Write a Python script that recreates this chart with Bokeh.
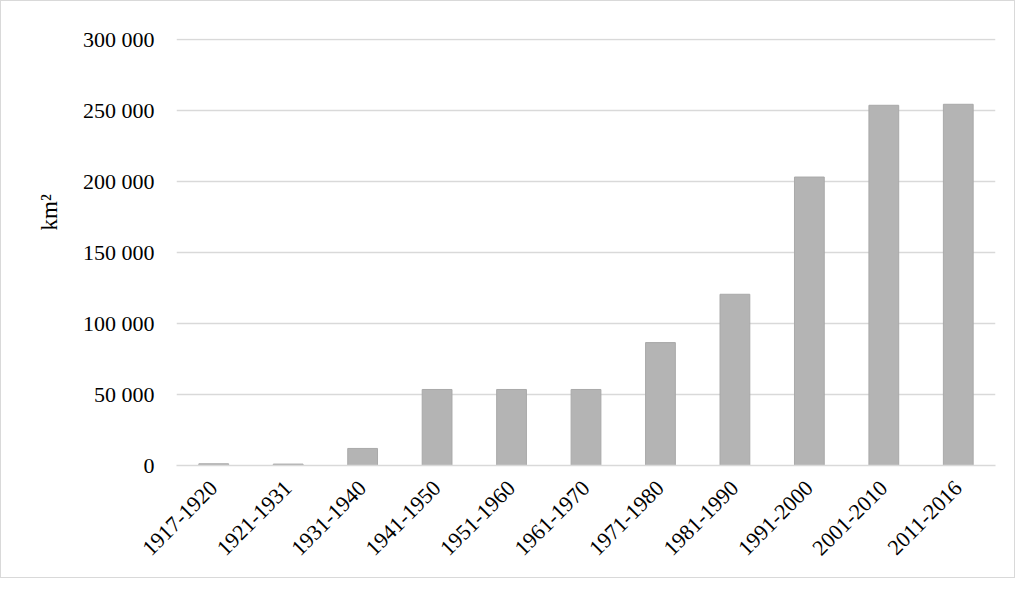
from math import pi
from bokeh.plotting import figure
from bokeh.models import FactorRange, Range1d, FixedTicker, ColumnDataSource, Title
from bokeh.embed import file_html
from bokeh.resources import INLINE

periods = ["1917-1920", "1921-1931", "1931-1940", "1941-1950", "1951-1960",
           "1961-1970", "1971-1980", "1981-1990", "1991-2000", "2001-2010", "2011-2016"]
area_km2 = [1200, 1000, 12000, 53500, 53500, 53500, 86500, 120500, 203000, 253500, 254200]
y_ticks = [0, 50000, 100000, 150000, 200000, 250000, 300000]
y_tick_labels = ["0", "50 000", "100 000", "150 000", "200 000", "250 000", "300 000"]
y_title = "km²"

FONT = "Liberation Serif"

src = ColumnDataSource(data=dict(period=periods, area=area_km2))

p = figure(x_range=FactorRange(factors=periods), y_range=Range1d(0, 300500),
           width=1015, height=578, output_backend="svg", toolbar_location=None,
           min_border_left=175, min_border_right=21, min_border_top=37, min_border_bottom=114)

p.vbar(x="period", top="area", width=0.4, source=src,
       fill_color="#b4b4b4", line_color="#a9a9a9", line_width=1)

p.outline_line_color = None
p.styles = {"border": "1px solid #d9d9d9"}

p.xgrid.grid_line_color = None
p.ygrid.grid_line_color = "#d9d9d9"
p.ygrid.grid_line_width = 1.5

p.yaxis.ticker = FixedTicker(ticks=y_ticks)
p.yaxis.major_label_overrides = dict(zip(y_ticks, y_tick_labels))
p.yaxis.axis_line_color = None
p.yaxis.major_tick_line_color = None
p.yaxis.minor_tick_line_color = None
p.yaxis.major_tick_out = 0
p.yaxis.major_label_standoff = 22
p.yaxis.major_label_text_font = FONT
p.yaxis.major_label_text_font_size = "22px"
p.yaxis.major_label_text_color = "#000000"

ytitle = Title(text=y_title, align="left", offset=235, standoff=36,
               text_font=FONT, text_font_size="23px", text_font_style="normal",
               text_color="#000000")
p.add_layout(ytitle, "left")

p.xaxis.axis_line_color = "#d9d9d9"
p.xaxis.axis_line_width = 1.5
p.xaxis.major_tick_line_color = None
p.xaxis.major_tick_out = 0
p.xaxis.major_label_standoff = 19
p.xaxis.major_label_orientation = pi / 4
p.xaxis.major_label_text_font = FONT
p.xaxis.major_label_text_font_size = "22px"
p.xaxis.major_label_text_color = "#000000"

open("out.html", "w").write(file_html(p, INLINE))
